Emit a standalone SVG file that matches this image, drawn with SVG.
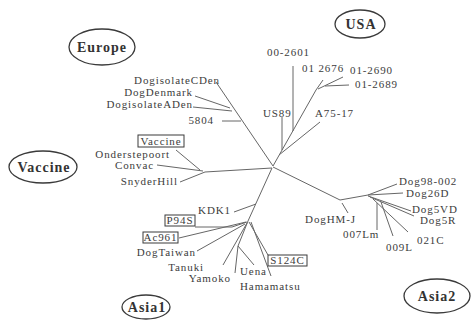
<svg xmlns="http://www.w3.org/2000/svg" width="471" height="321" viewBox="0 0 471 321">
<style>
.t{font-family:"Liberation Serif",serif;font-size:11px;fill:#3c3c3c;letter-spacing:0.9px}
.e{fill:none;stroke:#3a3a3a;stroke-width:1.3}
.et{font-family:"Liberation Serif",serif;font-size:14px;font-weight:bold;fill:#333;letter-spacing:1px}
.b{fill:none;stroke:#3a3a3a;stroke-width:1}
.c line,.c polyline{stroke:#666;stroke-width:1;fill:none}
</style>
<rect width="471" height="321" fill="#fff"/>
<g class="c" id="connectors">
<line x1="216" y1="82" x2="273" y2="166"/>
<line x1="195" y1="96" x2="230" y2="108"/>
<line x1="193" y1="107" x2="232" y2="111"/>
<line x1="222" y1="121" x2="241" y2="121"/>
<line x1="205" y1="172" x2="272" y2="168"/>
<line x1="176" y1="150" x2="200" y2="170"/>
<line x1="157" y1="165" x2="203" y2="171"/>
<line x1="180" y1="182" x2="205" y2="172"/>
<line x1="273" y1="166" x2="316" y2="90"/>
<line x1="282" y1="117" x2="282" y2="150"/>
<line x1="293" y1="66" x2="293" y2="131"/>
<line x1="320" y1="122" x2="279" y2="155"/>
<line x1="316" y1="90" x2="323" y2="80"/>
<line x1="318" y1="89" x2="343" y2="77"/>
<line x1="325" y1="86" x2="349" y2="85"/>
<line x1="272" y1="168" x2="248" y2="221"/>
<line x1="234" y1="212" x2="256" y2="204"/>
<polyline points="195,227 232,227 247,222"/>
<line x1="179" y1="238" x2="246" y2="222"/>
<line x1="197" y1="251" x2="245" y2="224"/>
<line x1="223" y1="265" x2="247" y2="223"/>
<line x1="248" y1="221" x2="238" y2="246"/>
<line x1="238" y1="246" x2="235" y2="273"/>
<line x1="238" y1="246" x2="254" y2="265"/>
<line x1="249" y1="222" x2="268" y2="255"/>
<line x1="251" y1="222" x2="271" y2="276"/>
<line x1="273" y1="167" x2="340" y2="200"/>
<line x1="340" y1="200" x2="368" y2="195"/>
<line x1="342" y1="203" x2="348" y2="213"/>
<line x1="368" y1="195" x2="397" y2="184"/>
<line x1="368" y1="195" x2="403" y2="193"/>
<line x1="368" y1="196" x2="411" y2="211"/>
<line x1="370" y1="197" x2="414" y2="216"/>
<line x1="377" y1="203" x2="377" y2="230"/>
<line x1="381" y1="202" x2="393" y2="236"/>
<line x1="373" y1="199" x2="408" y2="232"/>
</g>
<g id="europe"><ellipse class="e" cx="102" cy="47" rx="33" ry="18"/><text class="et" x="102" y="52" text-anchor="middle">Europe</text></g>
<g id="usa"><ellipse class="e" cx="360" cy="24" rx="25" ry="14"/><text class="et" x="361" y="29" text-anchor="middle">USA</text></g>
<g id="vaccine-group"><ellipse class="e" cx="43" cy="167" rx="34" ry="16"/><text class="et" x="44" y="172" text-anchor="middle" letter-spacing="2">Vaccine</text></g>
<g id="asia1"><ellipse class="e" cx="146" cy="307" rx="24" ry="12"/><text class="et" x="147" y="312" text-anchor="middle">Asia1</text></g>
<g id="asia2"><ellipse class="e" cx="437" cy="296" rx="33" ry="17"/><text class="et" x="437" y="301" text-anchor="middle" letter-spacing="2">Asia2</text></g>
<g id="n-cden"><text class="t" x="220" y="84" text-anchor="end">DogisolateCDen</text></g>
<g id="n-denmark"><text class="t" x="193" y="96" text-anchor="end">DogDenmark</text></g>
<g id="n-aden"><text class="t" x="193" y="108" text-anchor="end">DogisolateADen</text></g>
<g id="n-5804"><text class="t" x="214" y="124" text-anchor="end">5804</text></g>
<g id="n-vaccine"><rect class="b" x="138" y="135" width="46" height="12"/><text class="t" x="161" y="145" text-anchor="middle">Vaccine</text></g>
<g id="n-onder"><text class="t" x="170" y="158" text-anchor="end">Onderstepoort</text></g>
<g id="n-convac"><text class="t" x="154" y="169" text-anchor="end">Convac</text></g>
<g id="n-snyder"><text class="t" x="178" y="185" text-anchor="end">SnyderHill</text></g>
<g id="n-0026"><text class="t" x="267" y="56">00-2601</text></g>
<g id="n-2676"><text class="t" x="302" y="72">01 2676</text></g>
<g id="n-2690"><text class="t" x="350" y="74">01-2690</text></g>
<g id="n-2689"><text class="t" x="355" y="88">01-2689</text></g>
<g id="n-us89"><text class="t" x="263" y="117">US89</text></g>
<g id="n-a75"><text class="t" x="315" y="117">A75-17</text></g>
<g id="n-kdk1"><text class="t" x="231" y="214" text-anchor="end">KDK1</text></g>
<g id="n-p94s"><rect class="b" x="165" y="215" width="30" height="11"/><text class="t" x="180" y="224" text-anchor="middle">P94S</text></g>
<g id="n-ac961"><rect class="b" x="143" y="232" width="35" height="11"/><text class="t" x="160.5" y="241" text-anchor="middle">Ac961</text></g>
<g id="n-taiwan"><text class="t" x="196" y="256" text-anchor="end">DogTaiwan</text></g>
<g id="n-tanuki"><text class="t" x="204" y="271" text-anchor="end">Tanuki</text></g>
<g id="n-yamoko"><text class="t" x="231" y="282" text-anchor="end">Yamoko</text></g>
<g id="n-uena"><text class="t" x="240" y="275">Uena</text></g>
<g id="n-hama"><text class="t" x="240" y="290">Hamamatsu</text></g>
<g id="n-s124c"><rect class="b" x="268" y="255" width="39" height="11"/><text class="t" x="287.5" y="264" text-anchor="middle">S124C</text></g>
<g id="n-hmj"><text class="t" x="356" y="223" text-anchor="end">DogHM-J</text></g>
<g id="n-007"><text class="t" x="343" y="238">007Lm</text></g>
<g id="n-009"><text class="t" x="386" y="251">009L</text></g>
<g id="n-021"><text class="t" x="417" y="244">021C</text></g>
<g id="n-98"><text class="t" x="399" y="185">Dog98-002</text></g>
<g id="n-26d"><text class="t" x="406" y="197">Dog26D</text></g>
<g id="n-5vd"><text class="t" x="412" y="213">Dog5VD</text></g>
<g id="n-5r"><text class="t" x="420" y="224">Dog5R</text></g>
</svg>
